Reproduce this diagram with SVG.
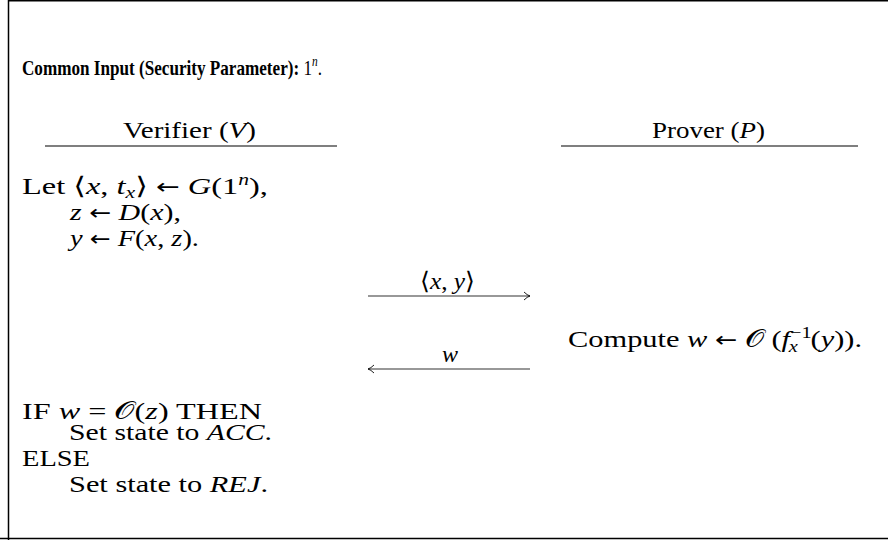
<svg xmlns="http://www.w3.org/2000/svg" width="888" height="540" viewBox="0 0 888 540">
<defs>
<style>
text{font-family:"Liberation Serif","DejaVu Serif",serif;font-size:24px;fill:#000}
.t{font-size:21px}
.b{font-weight:bold}
.i{font-style:italic}
.s{font-size:16px}
.ar{font-family:"DejaVu Sans",sans-serif;font-size:21px}
.rule{stroke:#000;stroke-width:1.2}
.arr{stroke:#333;stroke-width:1.2;fill:none}
</style>
<marker id="ah" viewBox="0 0 10 12" refX="9.5" refY="6" markerWidth="8" markerHeight="10" orient="auto" markerUnits="userSpaceOnUse">
<path d="M2,1 Q6,5 9.5,6 Q6,7 2,11" fill="none" stroke="#000" stroke-width="1.1"/>
</marker>
</defs>
<rect width="888" height="540" fill="#fff"/>
<path d="M8.5,540 V0.75 H888 M0,538.5 H888" fill="none" stroke="#000" stroke-width="1.5"/>
<g id="title">
<text class="t" x="22" y="75" textLength="300" lengthAdjust="spacingAndGlyphs"><tspan class="b">Common Input (Security Parameter):</tspan> 1<tspan class="i" font-size="14" dy="-9">n</tspan><tspan dy="9">.</tspan></text>
</g>
<g id="verifier">
<text x="123" y="138" textLength="133" lengthAdjust="spacingAndGlyphs">Verifier (<tspan class="i">V</tspan>)</text>
<line class="rule" x1="45" y1="146" x2="337" y2="146"/>
<text x="22" y="194" textLength="246" lengthAdjust="spacingAndGlyphs">Let ⟨<tspan class="i">x</tspan>, <tspan class="i">t</tspan><tspan class="i s" dy="4">x</tspan><tspan dy="-4">⟩ </tspan><tspan class="ar">←</tspan> <tspan class="i">G</tspan>(1<tspan class="i s" dy="-9">n</tspan><tspan dy="9">),</tspan></text>
<text x="70" y="220" textLength="111" lengthAdjust="spacingAndGlyphs"><tspan class="i">z</tspan> <tspan class="ar">←</tspan> <tspan class="i">D</tspan>(<tspan class="i">x</tspan>),</text>
<text x="70" y="246" textLength="129" lengthAdjust="spacingAndGlyphs"><tspan class="i">y</tspan> <tspan class="ar">←</tspan> <tspan class="i">F</tspan>(<tspan class="i">x</tspan>, <tspan class="i">z</tspan>).</text>
<text x="22" y="419" textLength="240" lengthAdjust="spacingAndGlyphs">IF <tspan class="i">w</tspan> = 𝒪(<tspan class="i">z</tspan>) THEN</text>
<text x="69" y="440" textLength="203" lengthAdjust="spacingAndGlyphs">Set state to <tspan class="i">ACC</tspan>.</text>
<text x="22" y="466" textLength="68" lengthAdjust="spacingAndGlyphs">ELSE</text>
<text x="69" y="492" textLength="199" lengthAdjust="spacingAndGlyphs">Set state to <tspan class="i">REJ</tspan>.</text>
</g>
<g id="prover">
<text x="652" y="138" textLength="113" lengthAdjust="spacingAndGlyphs">Prover (<tspan class="i">P</tspan>)</text>
<line class="rule" x1="561" y1="146" x2="858" y2="146"/>
<text x="568" y="347" textLength="294" lengthAdjust="spacingAndGlyphs">Compute <tspan class="i">w</tspan> <tspan class="ar">←</tspan> 𝒪 (<tspan class="i">f</tspan><tspan class="s" dy="-9">−1</tspan><tspan class="i s" dx="-18" dy="14">x</tspan><tspan dx="10" dy="-5">(</tspan><tspan class="i">y</tspan>)).</text>
</g>
<g id="connectors">
<line class="arr" x1="368" y1="296" x2="530" y2="296" marker-end="url(#ah)"/>
<text x="420" y="289" textLength="55" lengthAdjust="spacingAndGlyphs">⟨<tspan class="i">x</tspan>, <tspan class="i">y</tspan>⟩</text>
<line class="arr" x1="530" y1="369" x2="368" y2="369" marker-end="url(#ah)"/>
<text x="450" y="362" text-anchor="middle" class="i">w</text>
</g>
</svg>
